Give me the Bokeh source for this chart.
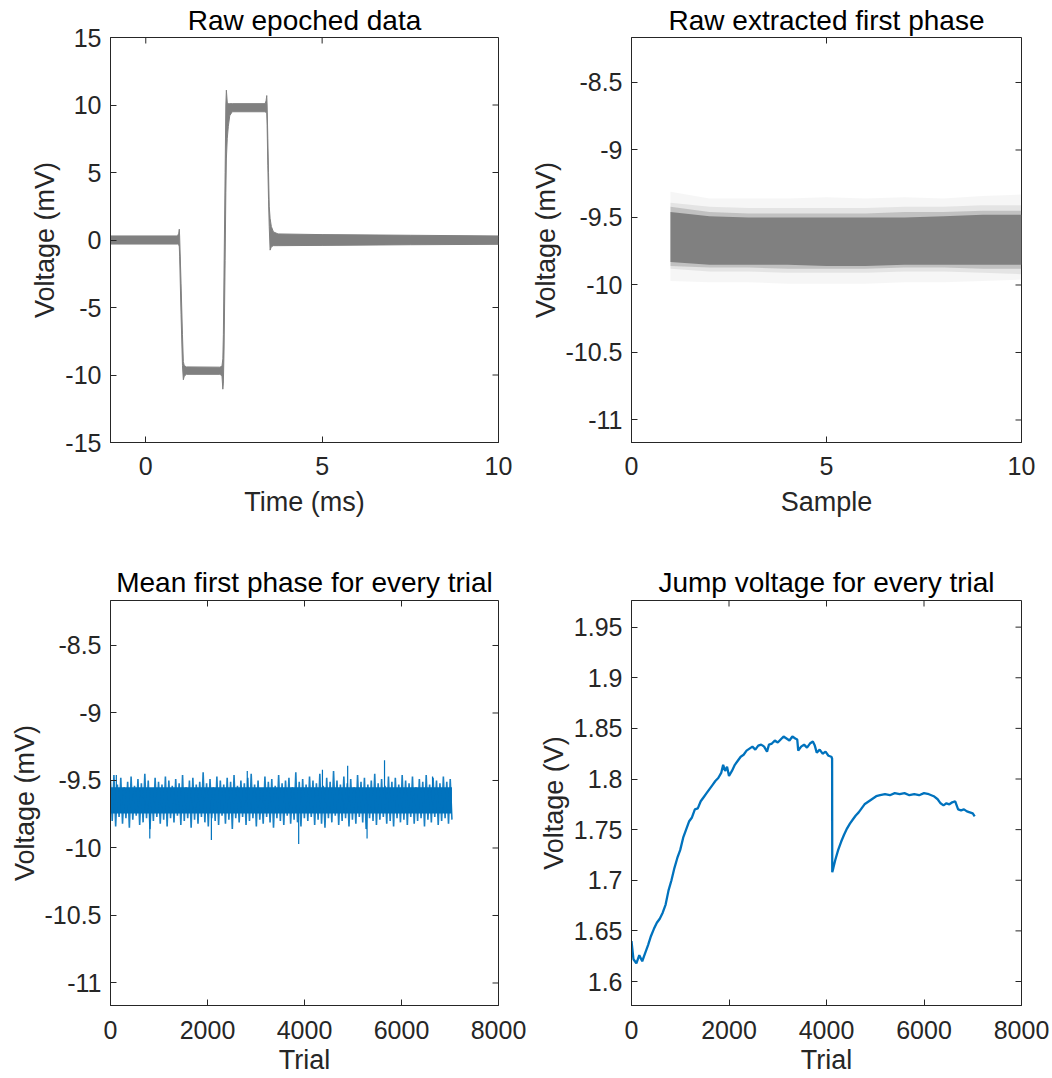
import numpy as np
from bokeh.plotting import figure
from bokeh.models import FixedTicker, Range1d
from bokeh.layouts import column, row
from bokeh.embed import file_html
from bokeh.resources import INLINE

FONT = "Liberation Sans"
AX = "#262626"
GRAY = "#808080"
BLUE = "#0072BD"

# ---------------- Panel 1: raw epoched data (envelope of all traces) ----------------
time_ms = [-1.0, 0.90, 0.935, 0.95, 0.96, 1.00, 1.04, 1.065, 1.09, 1.15, 2.10, 2.16, 2.185,
           2.20, 2.22, 2.25, 2.27, 2.285, 2.31, 2.34, 2.38, 2.45, 3.38, 3.41, 3.43, 3.44,
           3.46, 3.48, 3.50, 3.525, 3.56, 3.62, 3.75, 5.0, 7.5, 10.0]
epoch_upper = [0.30, 0.30, 0.50, 0.80, 0.30, -3.2, -7.0, -9.0, -9.30, -9.40, -9.42, -9.35, -8.8,
               -7.0, -2.0, 5.0, 10.0, 11.1, 10.2, 10.1, 10.1, 10.1, 10.1, 10.3, 10.7, 10.0,
               7.5, 5.0, 2.5, 1.6, 1.0, 0.6, 0.45, 0.40, 0.35, 0.30]
epoch_lower = [-0.30, -0.30, -0.35, -0.50, -1.2, -5.5, -9.3, -10.35, -10.1, -9.95, -9.95, -10.05, -11.05,
               -10.6, -8.0, -1.5, 3.5, 6.0, 7.5, 8.4, 9.2, 9.5, 9.5, 9.45, 9.4, 8.5,
               5.5, 3.0, 1.0, -0.75, -0.50, -0.42, -0.42, -0.40, -0.35, -0.32]

# ---------------- Panel 2: extracted first phase (density layers) ----------------
sample = [1, 2, 3, 4, 5, 6, 7, 8, 9, 10]
outer_hi = [-9.31, -9.36, -9.36, -9.36, -9.35, -9.36, -9.35, -9.36, -9.34, -9.33]
outer_lo = [-9.97, -9.98, -9.98, -9.99, -9.99, -9.99, -9.98, -9.98, -9.97, -9.96]
mid_hi = [-9.39, -9.42, -9.43, -9.43, -9.43, -9.43, -9.42, -9.42, -9.41, -9.41]
mid_lo = [-9.88, -9.90, -9.90, -9.91, -9.91, -9.91, -9.90, -9.90, -9.91, -9.92]
inner_hi = [-9.42, -9.46, -9.47, -9.47, -9.47, -9.47, -9.46, -9.46, -9.45, -9.45]
inner_lo = [-9.86, -9.87, -9.87, -9.88, -9.88, -9.88, -9.87, -9.87, -9.88, -9.88]
core_hi = [-9.46, -9.49, -9.50, -9.50, -9.50, -9.50, -9.50, -9.49, -9.48, -9.48]
core_lo = [-9.83, -9.85, -9.85, -9.85, -9.86, -9.86, -9.85, -9.85, -9.85, -9.85]

# ---------------- Panel 3: mean first phase per trial ----------------
n_trials = 7040
mean_high = [-9.50, -9.46, -9.53, -9.48, -9.55, -9.51, -9.47, -9.54, -9.49, -9.52,
             -9.45, -9.50, -9.56, -9.48, -9.51, -9.53, -9.47, -9.50, -9.54, -9.49,
             -9.52, -9.46, -9.55, -9.50, -9.48, -9.53, -9.51, -9.44, -9.52, -9.49,
             -9.55, -9.47, -9.50, -9.53, -9.48, -9.51, -9.46, -9.54, -9.50, -9.52,
             -9.48, -9.45, -9.53, -9.50, -9.56, -9.47, -9.51, -9.49, -9.54, -9.46,
             -9.52, -9.50, -9.48, -9.55, -9.44, -9.51, -9.49, -9.53, -9.47, -9.50,
             -9.52, -9.45, -9.54, -9.48, -9.51, -9.43, -9.50, -9.53, -9.47, -9.52,
             -9.49, -9.55, -9.46, -9.51, -9.48, -9.53, -9.50, -9.45, -9.52, -9.49,
             -9.54, -9.47, -9.51, -9.48, -9.53, -9.46, -9.50, -9.52, -9.47, -9.55,
             -9.49, -9.51, -9.46, -9.53, -9.48, -9.50, -9.52, -9.47, -9.51, -9.49]
mean_low = [-9.80, -9.84, -9.77, -9.82, -9.78, -9.85, -9.79, -9.76, -9.83, -9.81,
            -9.78, -9.86, -9.80, -9.77, -9.82, -9.79, -9.84, -9.78, -9.81, -9.76,
            -9.83, -9.80, -9.78, -9.85, -9.79, -9.82, -9.77, -9.81, -9.84, -9.78,
            -9.80, -9.83, -9.76, -9.82, -9.79, -9.86, -9.78, -9.81, -9.77, -9.83,
            -9.80, -9.78, -9.84, -9.79, -9.82, -9.77, -9.81, -9.85, -9.78, -9.80,
            -9.83, -9.76, -9.82, -9.79, -9.81, -9.84, -9.78, -9.80, -9.77, -9.83,
            -9.79, -9.82, -9.85, -9.78, -9.81, -9.76, -9.83, -9.80, -9.78, -9.84,
            -9.79, -9.82, -9.77, -9.81, -9.86, -9.78, -9.80, -9.83, -9.79, -9.77,
            -9.82, -9.80, -9.84, -9.78, -9.81, -9.79, -9.83, -9.77, -9.82, -9.80,
            -9.78, -9.84, -9.79, -9.81, -9.77, -9.83, -9.80, -9.78, -9.82, -9.79]
mean_center = -9.645
mean_core = [-9.745, -9.55]
spike_trials = [120, 810, 2080, 2820, 3880, 4370, 4890, 5290, 5650, 6640]
spike_values = [-9.46, -9.93, -9.94, -9.43, -9.97, -9.42, -9.39, -9.93, -9.35, -9.47]

# ---------------- Panel 4: jump voltage per trial ----------------
jump_trial = [0, 40, 100, 160, 220, 280, 340, 400, 460, 520, 580, 640, 700, 760, 820, 880, 940,
              1000, 1060, 1120, 1180, 1240, 1300, 1360, 1420, 1480, 1540, 1600, 1660, 1720, 1780,
              1840, 1880, 1920, 1960, 2000, 2060, 2120, 2180, 2240, 2300, 2360, 2420, 2480, 2540,
              2600, 2660, 2720, 2780, 2820, 2880, 2940, 3000, 3060, 3120, 3180, 3240, 3300, 3360,
              3400, 3420, 3480, 3540, 3600, 3660, 3720, 3760, 3800, 3860, 3920, 3980, 4040, 4100,
              4115, 4118, 4140, 4180, 4240, 4300, 4360, 4420, 4480, 4540, 4600, 4660, 4720, 4780,
              4840, 4900, 4960, 5020, 5100, 5200, 5300, 5400, 5500, 5600, 5700, 5800, 5900, 6000,
              6100, 6200, 6280, 6340, 6400, 6460, 6520, 6580, 6640, 6700, 6760, 6820, 6880, 6940,
              7000, 7040]
jump_volt = [1.640, 1.622, 1.618, 1.626, 1.620, 1.628, 1.636, 1.645, 1.652, 1.658, 1.662, 1.668,
             1.676, 1.690, 1.700, 1.712, 1.722, 1.730, 1.742, 1.750, 1.758, 1.762, 1.770, 1.771,
             1.778, 1.782, 1.786, 1.790, 1.794, 1.798, 1.801, 1.806, 1.814, 1.808, 1.812, 1.803,
             1.808, 1.814, 1.818, 1.822, 1.824, 1.828, 1.830, 1.832, 1.829, 1.833, 1.834, 1.832,
             1.827, 1.834, 1.835, 1.838, 1.836, 1.839, 1.842, 1.840, 1.838, 1.842, 1.840, 1.839,
             1.828, 1.832, 1.834, 1.831, 1.835, 1.837, 1.833, 1.826, 1.829, 1.825, 1.827, 1.823,
             1.822, 1.820, 1.708, 1.712, 1.720, 1.730, 1.738, 1.745, 1.751, 1.756, 1.760, 1.764,
             1.767, 1.771, 1.775, 1.777, 1.779, 1.781, 1.783, 1.784, 1.785, 1.784, 1.786, 1.785,
             1.786, 1.784, 1.785, 1.784, 1.786, 1.785, 1.783, 1.780, 1.776, 1.774, 1.776, 1.775,
             1.777, 1.778, 1.770, 1.769, 1.770, 1.768, 1.767, 1.766, 1.763]

# ---------------- axis definitions ----------------
p1_xticks = [0, 5, 10]
p1_yticks = [-15, -10, -5, 0, 5, 10, 15]
p2_xticks = [0, 5, 10]
phase_yticks = [-11, -10.5, -10, -9.5, -9, -8.5]
phase_ylabels = ["-11", "-10.5", "-10", "-9.5", "-9", "-8.5"]
trial_xticks = [0, 2000, 4000, 6000, 8000]
jump_yticks = [1.6, 1.65, 1.7, 1.75, 1.8, 1.85, 1.9, 1.95]
jump_ylabels = ["1.6", "1.65", "1.7", "1.75", "1.8", "1.85", "1.9", "1.95"]

FRAME_H = 405
TICK = 6


def style_axis(ax, ticks, labels, label_standoff, axis_label_standoff):
    ax.ticker = FixedTicker(ticks=ticks)
    ax.major_label_overrides = {t: l for t, l in zip(ticks, labels)}
    ax.major_tick_in = TICK
    ax.major_tick_out = 0
    ax.minor_tick_in = 0
    ax.minor_tick_out = 0
    ax.axis_line_color = AX
    ax.major_tick_line_color = AX
    ax.major_label_text_color = AX
    ax.major_label_text_font = FONT
    ax.major_label_text_font_size = "25px"
    ax.major_label_standoff = label_standoff
    ax.axis_label_text_font = FONT
    ax.axis_label_text_color = AX
    ax.axis_label_text_font_style = "normal"
    ax.axis_label_text_font_size = "27px"
    ax.axis_label_standoff = axis_label_standoff


def make_fig(xr, yr, xticks, xlabels, yticks, ylabels, fw, bl, br, bt, bb, title, xlabel, ylabel,
             xl_standoff, xal_standoff, title_standoff):
    p = figure(frame_width=fw, frame_height=FRAME_H, x_range=Range1d(*xr), y_range=Range1d(*yr),
               output_backend="svg", toolbar_location=None,
               min_border_left=bl, min_border_right=br, min_border_top=bt, min_border_bottom=bb)
    p.xgrid.visible = False
    p.ygrid.visible = False
    p.outline_line_color = AX
    p.outline_line_alpha = 1.0
    style_axis(p.xaxis[0], xticks, xlabels, xl_standoff, xal_standoff)
    style_axis(p.yaxis[0], yticks, ylabels, 9, 2)
    p.xaxis[0].axis_label = xlabel
    p.yaxis[0].axis_label = ylabel
    p.title.text = title
    p.title.align = "center"
    p.title.text_font = FONT
    p.title.text_font_size = "28px"
    p.title.text_font_style = "normal"
    p.title.text_color = "black"
    p.title.standoff = title_standoff
    # tick marks on the top and right edges of the box (MATLAB "box on")
    ypx = (yr[1] - yr[0]) / FRAME_H
    xpx = (xr[1] - xr[0]) / fw
    p.segment(x0=xticks, y0=[yr[1]] * len(xticks), x1=xticks, y1=[yr[1] - TICK * ypx] * len(xticks),
              color=AX, line_width=1)
    p.segment(x0=[xr[1]] * len(yticks), y0=yticks, x1=[xr[1] - TICK * xpx] * len(yticks), y1=yticks,
              color=AX, line_width=1)
    return p


phase_range = (-11.1667, -8.1667)

p1 = make_fig((-1, 10), (-15, 15), p1_xticks, [str(t) for t in p1_xticks], p1_yticks,
              [str(t) for t in p1_yticks], 388, 110, 28, 36, 119,
              "Raw epoched data", "Time (ms)", "Voltage (mV)", 14, 9, 4)
p1.varea(x=time_ms, y1=epoch_lower, y2=epoch_upper, color=GRAY)
p1.line(time_ms, epoch_upper, color=GRAY, line_width=1)
p1.line(time_ms, epoch_lower, color=GRAY, line_width=1)

p2 = make_fig((0, 10), phase_range, p2_xticks, [str(t) for t in p2_xticks], phase_yticks,
              phase_ylabels, 390, 105, 31, 36, 119,
              "Raw extracted first phase", "Sample", "Voltage (mV)", 14, 9, 4)
p2.varea(x=sample, y1=outer_lo, y2=outer_hi, color=GRAY, alpha=0.07)
p2.varea(x=sample, y1=mid_lo, y2=mid_hi, color=GRAY, alpha=0.15)
p2.varea(x=sample, y1=inner_lo, y2=inner_hi, color=GRAY, alpha=0.35)
p2.varea(x=sample, y1=core_lo, y2=core_hi, color=GRAY, alpha=1.0)

p3 = make_fig((0, 8000), phase_range, trial_xticks, [str(t) for t in trial_xticks], phase_yticks,
              phase_ylabels, 388, 110, 28, 39, 74,
              "Mean first phase for every trial", "Trial", "Voltage (mV)", 15, 3, 5)
zz_vals = []
for i in range(len(mean_high) + len(mean_low)):
    zz_vals.append(mean_high[i // 2] if i % 2 == 0 else mean_low[i // 2])
zz_trials = np.linspace(0, n_trials, len(zz_vals))
p3.varea(x=[0, n_trials], y1=[mean_core[0]] * 2, y2=[mean_core[1]] * 2, color=BLUE)
p3.line(zz_trials, zz_vals, color=BLUE, line_width=1.6, line_alpha=0.9)
p3.segment(x0=spike_trials, y0=[mean_center] * len(spike_trials), x1=spike_trials, y1=spike_values,
           color=BLUE, line_width=1.2)

p4 = make_fig((0, 8000), (1.5763, 1.9763), trial_xticks, [str(t) for t in trial_xticks], jump_yticks,
              jump_ylabels, 390, 105, 31, 39, 74,
              "Jump voltage for every trial", "Trial", "Voltage (V)", 15, 3, 5)
p4.line(jump_trial, jump_volt, color=BLUE, line_width=2.3)

layout = column(row(p1, p2), row(p3, p4))
open("out.html", "w").write(file_html(layout, INLINE))
